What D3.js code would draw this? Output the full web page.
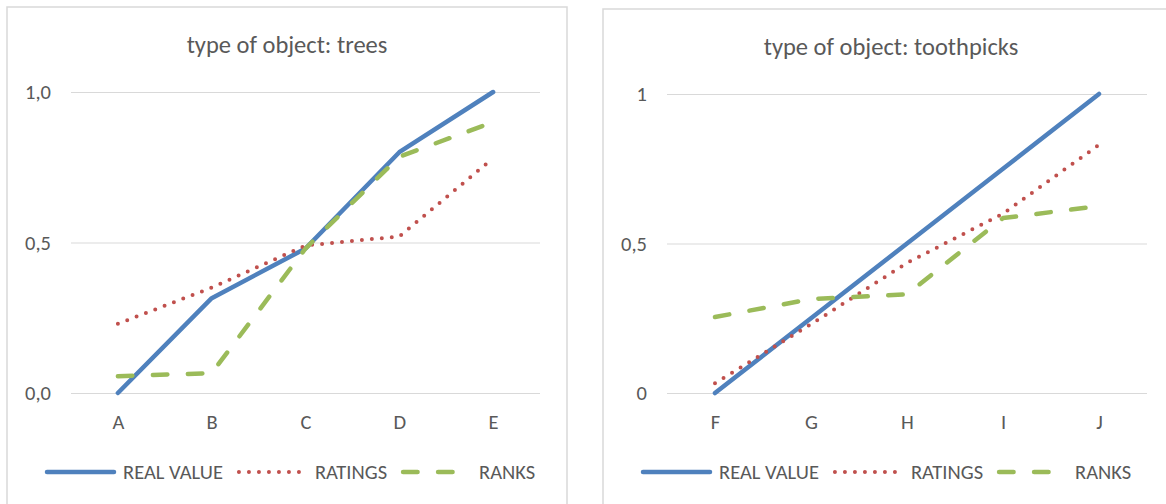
<!DOCTYPE html>
<html>
<head>
<meta charset="utf-8">
<script src="https://cdn.jsdelivr.net/npm/d3@7"></script>
<style>
  html, body { margin: 0; padding: 0; background: #ffffff; }
  svg { display: block; }
  text { font-family: Carlito, Lato, "Liberation Sans", sans-serif; fill: #595959; }
</style>
</head>
<body>
<svg id="chart" width="1166" height="504"></svg>
<script>
// ---------- data ----------
const seriesNames = ["REAL VALUE", "RATINGS", "RANKS"];

const treesTitle = "type of object: trees";
const treesCategories = ["A", "B", "C", "D", "E"];
const treesRealValue = [0.0, 0.315, 0.48, 0.80, 1.0];
const treesRatings   = [0.23, 0.35, 0.49, 0.52, 0.78];
const treesRanks     = [0.056, 0.066, 0.48, 0.785, 0.90];
const treesTickValues = [0, 0.5, 1];
const treesTickLabels = ["0,0", "0,5", "1,0"];

const toothTitle = "type of object: toothpicks";
const toothCategories = ["F", "G", "H", "I", "J"];
const toothRealValue = [0.0, 0.25, 0.5, 0.75, 1.0];
const toothRatings   = [0.033, 0.23, 0.435, 0.60, 0.83];
const toothRanks     = [0.254, 0.314, 0.33, 0.585, 0.625];
const toothTickValues = [0, 0.5, 1];
const toothTickLabels = ["0", "0,5", "1"];

// ---------- styles ----------
const seriesStyles = [
  { color: "#4F81BD", width: 4.5, dash: null, cap: "round" },
  { color: "#C0504D", width: 4,   dash: "0 10", cap: "round" },
  { color: "#9BBB59", width: 4.5, dash: "14.5 20.5", cap: "round" }
];
const FONT = "Carlito, Lato, 'Liberation Sans', sans-serif";

const svg = d3.select("#chart");

function drawPanel(cfg) {
  const g = svg.append("g");
  // panel border
  g.append("rect")
    .attr("x", cfg.px).attr("y", cfg.py)
    .attr("width", cfg.pw).attr("height", 600)
    .attr("fill", "#ffffff").attr("stroke", "#D9D9D9").attr("stroke-width", 1.5);

  // title
  g.append("text")
    .attr("x", cfg.px + cfg.pw / 2).attr("y", cfg.titleY)
    .attr("text-anchor", "middle")
    .style("font-size", "24.5px")
    .text(cfg.title);

  const x = d3.scalePoint().domain(cfg.categories).range([cfg.x0, cfg.x1]).padding(0.5);
  const y = d3.scaleLinear().domain([0, 1]).range([cfg.y0, cfg.y1]);

  // y axis with gridlines
  const yAxis = d3.axisLeft(y)
    .tickValues(cfg.tickValues)
    .tickSize(-(cfg.x1 - cfg.x0))
    .tickPadding(20)
    .tickFormat((d, i) => cfg.tickLabels[i]);
  const ya = g.append("g").attr("transform", `translate(${cfg.x0},0)`).call(yAxis);
  ya.select(".domain").remove();
  ya.selectAll(".tick line").attr("stroke", "#D9D9D9").attr("stroke-width", 1.2);
  ya.selectAll(".tick text")
    .attr("fill", "#595959")
    .style("font-size", "20.5px")
    .style("font-family", FONT);

  // x axis labels
  const xAxis = d3.axisBottom(x).tickSize(0).tickPadding(0);
  const xa = g.append("g").attr("transform", `translate(0,${cfg.y0})`).call(xAxis);
  xa.select(".domain").remove();
  xa.selectAll(".tick text")
    .attr("y", 36).attr("dy", 0)
    .attr("fill", "#595959")
    .style("font-size", "20.5px")
    .style("font-family", FONT);

  // lines
  const line = d3.line().x((d, i) => x(cfg.categories[i])).y(d => y(d));
  cfg.series.forEach((vals, si) => {
    const st = seriesStyles[si];
    const p = g.append("path")
      .datum(vals)
      .attr("d", line)
      .attr("fill", "none")
      .attr("stroke", st.color)
      .attr("stroke-width", st.width)
      .attr("stroke-linecap", st.cap)
      .attr("stroke-linejoin", "round");
    if (st.dash) p.attr("stroke-dasharray", st.dash);
  });

  // legend
  const lg = g.append("g").attr("transform", `translate(${cfg.px + 38},${cfg.legendY})`);
  let cx = 0;
  seriesNames.forEach((name, si) => {
    const st = seriesStyles[si];
    const sym = lg.append("line")
      .attr("x1", cx + 2).attr("x2", cx + 69)
      .attr("y1", 0).attr("y2", 0)
      .attr("stroke", st.color)
      .attr("stroke-width", st.width)
      .attr("stroke-linecap", st.cap);
    if (st.dash) sym.attr("stroke-dasharray", st.dash);
    const t = lg.append("text")
      .attr("x", cx + 78).attr("y", 0).attr("dy", "0.35em")
      .style("font-size", "20.5px")
      .text(name);
    cx += 78 + t.node().getComputedTextLength() + 14;
  });
}

drawPanel({
  px: 7, py: 7, pw: 560, titleY: 53,
  title: treesTitle, categories: treesCategories,
  x0: 71, x1: 540, y0: 393, y1: 92,
  tickValues: treesTickValues, tickLabels: treesTickLabels,
  series: [treesRealValue, treesRatings, treesRanks],
  legendY: 472
});

drawPanel({
  px: 603, py: 9, pw: 576, titleY: 55,
  title: toothTitle, categories: toothCategories,
  x0: 667, x1: 1147, y0: 393, y1: 94,
  tickValues: toothTickValues, tickLabels: toothTickLabels,
  series: [toothRealValue, toothRatings, toothRanks],
  legendY: 472
});
</script>
</body>
</html>
